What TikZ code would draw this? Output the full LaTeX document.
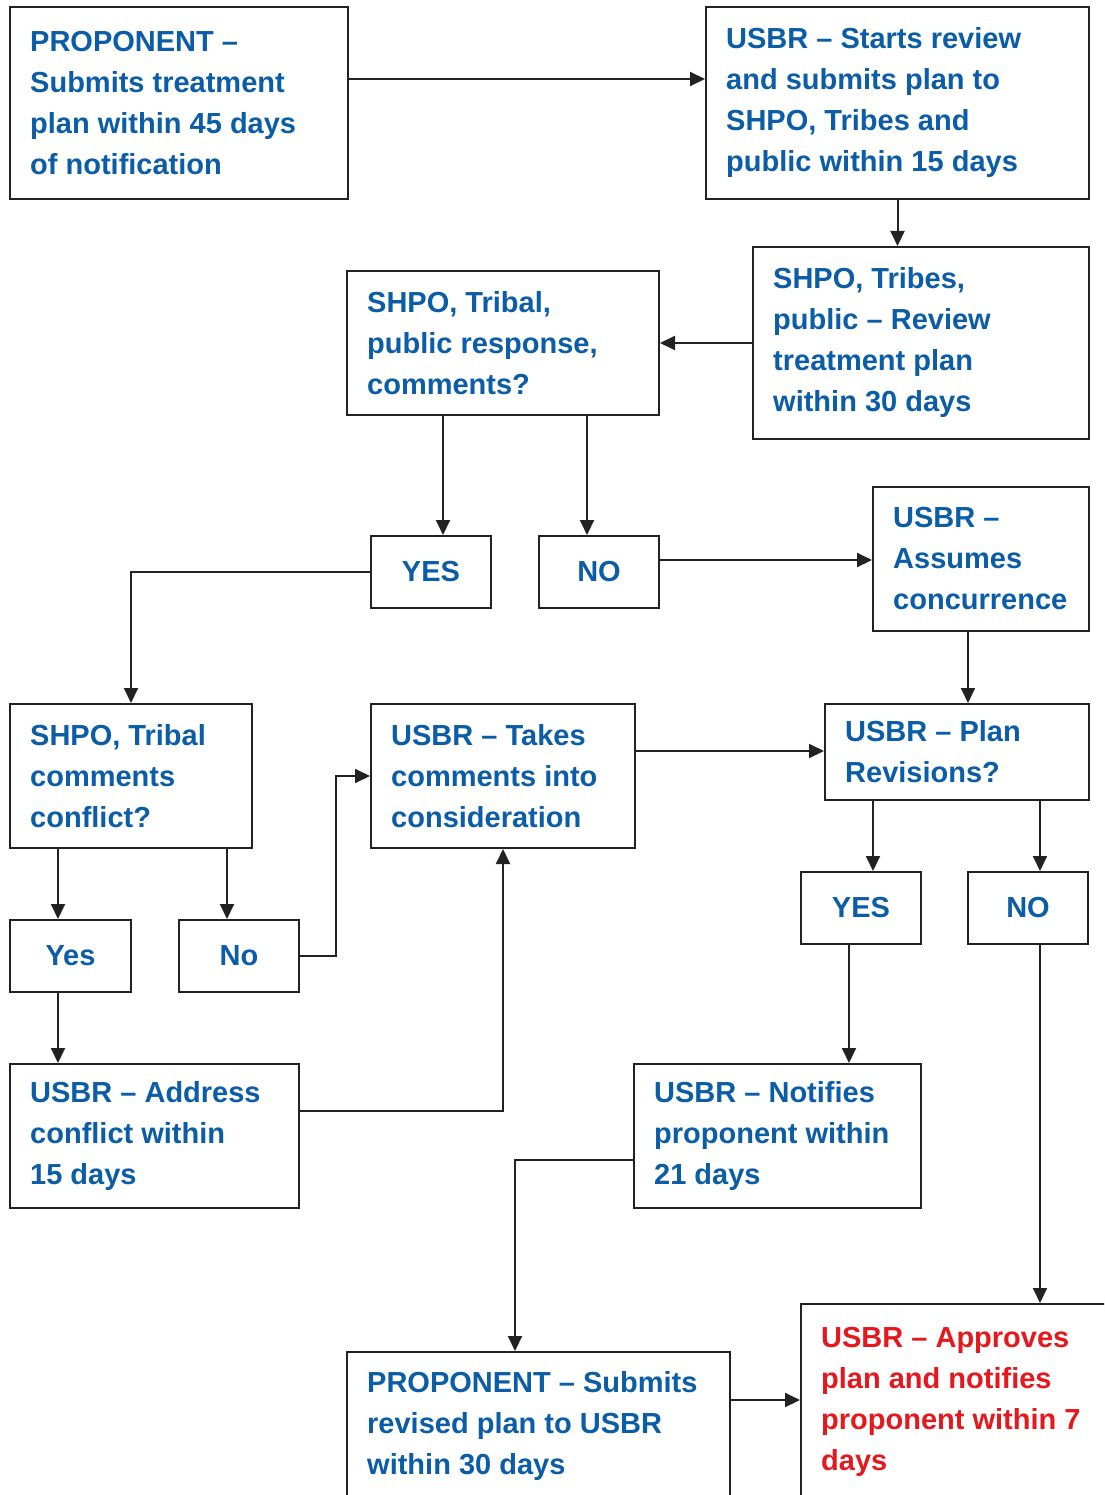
\documentclass[tikz,border=0pt]{standalone}
\usepackage{fontspec}
\setmainfont{Liberation Sans}
\usetikzlibrary{arrows.meta}
\definecolor{tblue}{HTML}{0A5DA6}
\definecolor{tred}{HTML}{E5181E}
\definecolor{lcol}{HTML}{222222}
\begin{document}
\begin{tikzpicture}[x=1pt,y=-1pt,
  box/.style={draw=lcol, line width=2pt, rectangle, inner sep=0pt},
  txt/.style={anchor=west, align=left, inner sep=0pt, text=tblue, font=\fontsize{29}{41}\selectfont\bfseries},
  rtxt/.style={txt, text=tred},
  small/.style={box, minimum width=120pt, minimum height=72pt, text=tblue, font=\fontsize{29}{41}\selectfont\bfseries},
  arr/.style={draw=lcol, line width=2pt, -{Triangle[length=15pt,width=14pt]}},
  ln/.style={draw=lcol, line width=2pt}]
\useasboundingbox (0,0) rectangle (1104,1495);
\clip (0,0) rectangle (1104,1495);
\fill[white] (0,0) rectangle (1104,1495);

% boxes
\node[box, minimum width=338pt, minimum height=192pt] (p1) at (179,103) {};
\node[txt] (p1t) at ([xshift=21pt]p1.west) {PROPONENT --\\Submits treatment\\plan within 45 days\\of notification};

\node[box, minimum width=383pt, minimum height=192pt] (p2) at (897.5,103) {};
\node[txt] (p2t) at ([xshift=21pt]p2.west) {USBR -- Starts review\\and submits plan to\\SHPO, Tribes and\\public within 15 days};

\node[box, minimum width=336pt, minimum height=192pt] (p3) at (921,343) {};
\node[txt] (p3t) at ([xshift=21pt]p3.west) {SHPO, Tribes,\\public -- Review\\treatment plan\\within 30 days};

\node[box, minimum width=312pt, minimum height=144pt] (p4) at (503,343) {};
\node[txt] (p4t) at ([xshift=21pt]p4.west) {SHPO, Tribal,\\public response,\\comments?};

\node[small] (yes1) at (431,572) {YES};
\node[small] (no1) at (599,572) {NO};

\node[box, minimum width=216pt, minimum height=144pt] (p7) at (981,559) {};
\node[txt] (p7t) at ([xshift=21pt]p7.west) {USBR --\\Assumes\\concurrence};

\node[box, minimum width=242pt, minimum height=144pt] (p8) at (131,776) {};
\node[txt] (p8t) at ([xshift=21pt]p8.west) {SHPO, Tribal\\comments\\conflict?};

\node[box, minimum width=264pt, minimum height=144pt] (p9) at (503,776) {};
\node[txt] (p9t) at ([xshift=21pt]p9.west) {USBR -- Takes\\comments into\\consideration};

\node[box, minimum width=264pt, minimum height=96pt] (p10) at (957,752) {};
\node[txt] (p10t) at ([xshift=21pt]p10.west) {USBR -- Plan\\Revisions?};

\node[small, minimum width=121pt] (yes2) at (70.5,956) {Yes};
\node[small] (no2) at (239,956) {No};

\node[small] (yes3) at (861,908) {YES};
\node[small] (no3) at (1028,908) {NO};

\node[box, minimum width=289pt, minimum height=144pt] (p15) at (154.5,1136) {};
\node[txt] (p15t) at ([xshift=21pt]p15.west) {USBR -- Address\\conflict within\\15 days};

\node[box, minimum width=287pt, minimum height=144pt] (p16) at (777.5,1136) {};
\node[txt] (p16t) at ([xshift=21pt]p16.west) {USBR -- Notifies\\proponent within\\21 days};

\node[box, minimum width=383pt, minimum height=148pt] (p17) at (538.5,1426) {};
\node[txt] (p17t) at ([xshift=21pt]p17.west) {PROPONENT -- Submits\\revised plan to USBR\\within 30 days};

\node[box, minimum width=314pt, minimum height=196pt] (p18) at (958,1402) {};
\node[rtxt] (p18t) at ([xshift=21pt]p18.west) {USBR -- Approves\\plan and notifies\\proponent within 7\\days};

% connectors
\draw[arr] ([yshift=24pt]p1.east) -- ([yshift=24pt]p1.east -| p2.west);
\draw[arr] (p2.south) -- (p2.south |- p3.north);
\draw[arr] (p3.west) -- (p4.east);
\draw[arr] ([xshift=12pt]yes1.north |- p4.south) -- ([xshift=12pt]yes1.north);
\draw[arr] ([xshift=-12pt]no1.north |- p4.south) -- ([xshift=-12pt]no1.north);
\draw[arr] ([yshift=12pt]no1.east) -- ([yshift=12pt]no1.east -| p7.west);
\draw[arr] (yes1.west) -| (p8.north);
\draw[arr] ([xshift=-13pt]p7.south) -- ([xshift=-13pt]p7.south |- p10.north);
\draw[arr] ([yshift=25pt]p9.east) -- ([yshift=25pt]p9.east -| p10.west);
\draw[arr] ([xshift=-12.5pt]yes2.north |- p8.south) -- ([xshift=-12.5pt]yes2.north);
\draw[arr] ([xshift=-12pt]no2.north |- p8.south) -- ([xshift=-12pt]no2.north);
\draw[arr] (no2.east) -- ++(36,0) |- (p9.west);
\draw[arr] ([xshift=-12.5pt]yes2.south) -- ([xshift=-12.5pt]yes2.south |- p15.north);
\draw[arr] ([yshift=25pt]p15.east) -| (p9.south);
\draw[arr] ([xshift=12pt]yes3.north |- p10.south) -- ([xshift=12pt]yes3.north);
\draw[arr] ([xshift=12pt]no3.north |- p10.south) -- ([xshift=12pt]no3.north);
\draw[arr] ([xshift=-12pt]yes3.south) -- ([xshift=-12pt]yes3.south |- p16.north);
\draw[arr] ([xshift=12pt]no3.south) -- ([xshift=12pt]no3.south |- p18.north);
\draw[arr] ([yshift=-24pt]p16.west) -| ([xshift=-23.5pt]p17.north);
\draw[arr] ([yshift=26pt]p17.east) -- ([yshift=26pt]p17.east -| p18.west);
\end{tikzpicture}
\end{document}
